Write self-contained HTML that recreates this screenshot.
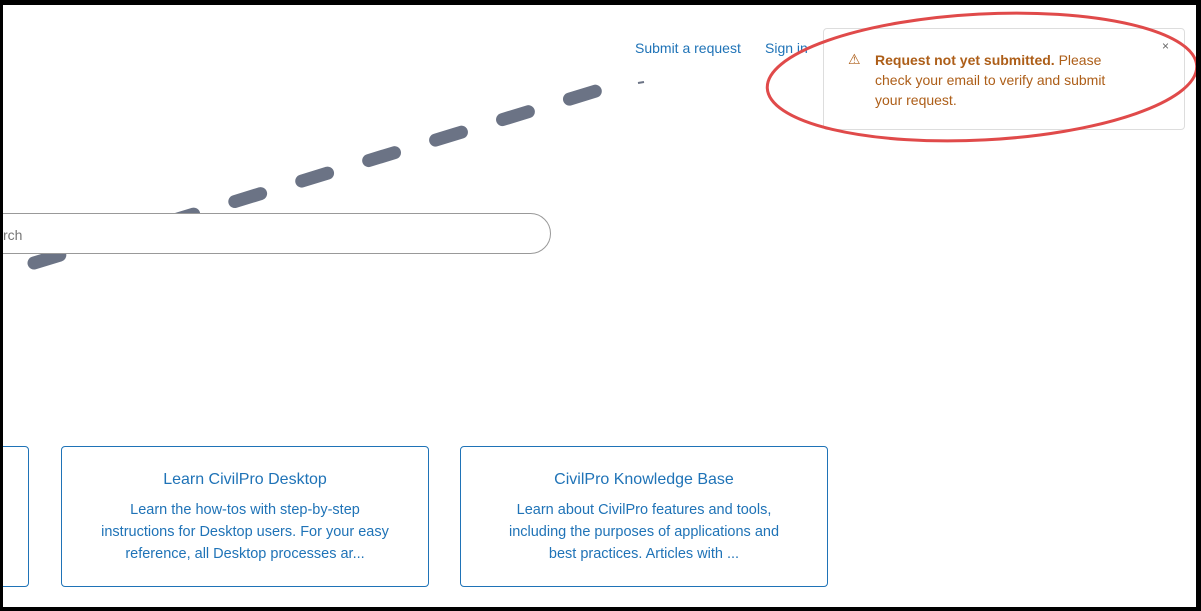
<!DOCTYPE html>
<html><head><style>
body{margin:0;width:1201px;height:611px;overflow:hidden;background:#000;font-family:"Liberation Sans",sans-serif}
#pg{position:absolute;left:3px;top:5px;width:1193px;height:602px;background:#fff;overflow:hidden}
.a{position:absolute;color:#1f73b7;font-size:14px}
.card{position:absolute;top:441px;height:141px;border:1px solid #1f73b7;border-radius:4px;box-sizing:border-box;text-align:center;color:#1f73b7}
.card h3{margin:24px 0 0;font-weight:normal;font-size:16px}
.card p{margin:10px 0 0;font-size:14.5px;line-height:22px;white-space:nowrap}
</style></head><body>
<div id="pg">
<div class="a" style="left:632px;top:35px">Submit a request</div>
<div class="a" style="left:762px;top:35px">Sign in</div>
<svg width="1193" height="602" style="position:absolute;left:0;top:0">
<line x1="31" y1="258" x2="606" y2="82" stroke="#6b7385" stroke-width="13" stroke-linecap="round" stroke-dasharray="27 43"/>
<line x1="635" y1="78" x2="641" y2="77" stroke="#6b7385" stroke-width="2"/>
</svg>
<div style="position:absolute;left:-20px;top:208px;width:568px;height:41px;border:1px solid #999;border-radius:21px;box-sizing:border-box;background:#fff"></div>
<div style="position:absolute;left:0;top:222px;font-size:14px;color:#777">rch</div>
<div style="position:absolute;left:820px;top:23px;width:362px;height:102px;border:1px solid #ddd;border-radius:4px;box-sizing:border-box"></div>
<div style="position:absolute;left:1159px;top:34px;font-size:12px;color:#666">×</div>
<div style="position:absolute;left:845px;top:46px;font-size:14px;color:#ad5e18">⚠</div>
<div style="position:absolute;left:872px;top:45px;width:300px;font-size:14px;line-height:20px;color:#ad5e18;white-space:nowrap"><b>Request not yet submitted.</b> Please<br>check your email to verify and submit<br>your request.</div>
<div class="card" style="left:-20px;width:46px"></div>
<div class="card" style="left:58px;width:368px"><h3>Learn CivilPro Desktop</h3><p>Learn the how-tos with step-by-step<br>instructions for Desktop users. For your easy<br>reference, all Desktop processes ar...</p></div>
<div class="card" style="left:457px;width:368px"><h3>CivilPro Knowledge Base</h3><p>Learn about CivilPro features and tools,<br>including the purposes of applications and<br>best practices. Articles with ...</p></div>
<svg width="1193" height="602" style="position:absolute;left:0;top:0">
<ellipse cx="979" cy="72" rx="215" ry="63" fill="none" stroke="#e04a4a" stroke-width="3" transform="rotate(-3 979 72)"/>
</svg>
</div>
</body></html>
